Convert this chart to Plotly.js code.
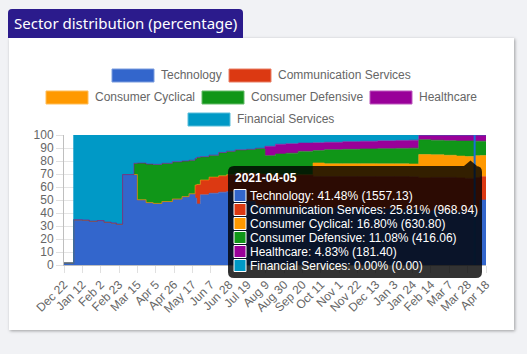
<!DOCTYPE html>
<html><head><meta charset="utf-8">
<script src="https://cdn.plot.ly/plotly-3.0.1.min.js"></script>
<style>
html,body{margin:0;padding:0;background:#f1f2f5;width:527px;height:354px;overflow:hidden;}
#card{position:absolute;left:9px;top:38px;width:505px;height:292px;background:#fff;box-shadow:1px 1px 3px rgba(0,0,0,0.35);}
#tab{position:absolute;left:8px;top:9px;width:235px;height:29px;background:#2b1b8c;border-radius:4px 4px 0 0;}
#chart{position:absolute;left:0;top:0;width:527px;height:354px;}
</style></head><body>
<div id="card"></div><div id="tab"></div><div id="chart"></div>
<script>
const titleText = 'Sector distribution (percentage)';
const sectorNames = ['Technology','Communication Services','Consumer Cyclical','Consumer Defensive','Healthcare','Financial Services'];
const sectorColors = ['#3366cc','#dc3912','#ff9900','#109618','#990099','#0099c6'];

const dates = ['2019-12-22','2020-01-02','2020-01-12','2020-01-20','2020-01-29','2020-02-06','2020-02-14','2020-02-20','2020-02-27','2020-03-11','2020-03-15','2020-03-25','2020-04-02','2020-04-12','2020-04-24','2020-05-05','2020-05-13','2020-05-20','2020-05-22','2020-05-26','2020-06-05','2020-06-16','2020-06-25','2020-07-05','2020-07-18','2020-07-28','2020-08-08','2020-08-20','2020-09-01','2020-09-15','2020-10-02','2020-10-15','2020-11-05','2020-11-25','2020-12-15','2021-01-05','2021-01-20','2021-01-31','2021-02-14','2021-03-01','2021-03-15','2021-03-25','2021-04-05','2021-04-11','2021-04-18'];

const technology = [1.5,34.8,34.6,33.8,34.2,33.0,32.4,31.5,69.6,69.6,50.2,48.0,47.4,48.8,50.8,52.6,54.8,51.5,47.0,54.0,55.2,56.0,56.4,55.4,49.0,46.0,45.5,45.0,44.6,44.8,44.0,43.8,44.0,43.6,43.0,42.8,42.6,41.5,41.8,41.6,41.2,41.0,41.48,50.0,50.0];
const communication = [0,0,0,0,0,0,0,0,0,0,0,0,0,0,0,0,0,10.0,15.0,11.4,12.4,12.6,13.0,15.4,21.5,24.0,24.0,24.2,24.4,24.6,24.0,24.2,24.0,24.4,25.0,25.2,25.2,25.5,25.6,25.8,25.8,25.6,25.81,18.0,18.0];
const cyclical = [0,0,0,0,0,0,0,0,0,0,0,0,0,0,0,0,0,0,0,0,0,0,0,0,0,0,0,0,0,0,10.5,9.9,9.9,9.9,9.8,9.8,9.9,18.0,17.4,17.0,16.8,16.8,16.80,16.2,16.2];
const defensive = [0,0,0,0,0,0,0,0,0,8.6,28.2,29.6,30.0,29.4,28.6,27.4,25.8,20.5,20.8,17.9,16.9,17.9,18.1,17.8,18.5,19.8,14.6,16.2,17.0,18.0,9.5,10.8,11.1,11.4,11.7,11.9,12.2,11.4,11.2,11.2,11.6,12.0,11.08,11.0,11.0];
const healthcare = [0,0,0,0,0,0,0,0,0,0,0,0,0,0,0,0,0,0,0,0,0,0,0,0,0,0,7.2,7.5,7.3,6.4,6.0,5.7,5.9,5.9,6.0,6.1,6.1,3.6,4.0,4.4,4.6,4.6,4.83,4.8,4.8];
const financial = [0,65.2,65.4,66.2,65.8,67.0,67.6,68.5,30.4,21.8,21.6,22.4,22.6,21.8,20.6,20.0,19.4,18.0,17.2,16.7,15.5,13.5,12.5,11.4,11.0,10.2,8.7,7.1,6.7,6.2,6.0,5.6,5.1,4.8,4.5,4.2,4.0,0,0,0,0,0,0,0,0];

const tickVals = ['2019-12-22','2020-01-12','2020-02-02','2020-02-23','2020-03-15','2020-04-05','2020-04-26','2020-05-17','2020-06-07','2020-06-28','2020-07-19','2020-08-09','2020-08-30','2020-09-20','2020-10-11','2020-11-01','2020-11-22','2020-12-13','2021-01-03','2021-01-24','2021-02-14','2021-03-07','2021-03-28','2021-04-18'];
const tickText = ['Dec 22','Jan 12','Feb 2','Feb 23','Mar 15','Apr 5','Apr 26','May 17','Jun 7','Jun 28','Jul 19','Aug 9','Aug 30','Sep 20','Oct 11','Nov 1','Nov 22','Dec 13','Jan 3','Jan 24','Feb 14','Mar 7','Mar 28','Apr 18'];
const yTicks = [0,10,20,30,40,50,60,70,80,90,100];

const hoverDate = '2021-04-05';
const hoverAmounts = [1557.13, 968.94, 630.80, 416.06, 181.40, 0.00];

const seriesValues = [technology, communication, cyclical, defensive, healthcare, financial];

// layout geometry (pixels)
const L=64, R=486, T=135, B=265;
const px = x => (x-L)/(R-L);
const py = y => (B-y)/(B-T);
const FONT = 'Liberation Sans, Arial, Helvetica, sans-serif';

function lighten(hex, k){
  const n = parseInt(hex.slice(1),16);
  const r=(n>>16)&255,g=(n>>8)&255,b=n&255;
  const f=c=>Math.round(c+(255-c)*k);
  return `rgb(${f(r)},${f(g)},${f(b)})`;
}

const traces = seriesValues.map((vals,i)=>({
  type:'scatter', mode:'lines', x:dates, y:vals, name:sectorNames[i],
  stackgroup:'one', line:{shape:'hv', width:0.6, color:sectorColors[i]},
  fillcolor:sectorColors[i], hoverinfo:'skip', showlegend:false
}));

const shapes = [];
const annotations = [];

// legend
const legendPos = [[112,75.5],[229,75.5],[46,97.5],[202,97.5],[370,97.5],[188,119.5]];
sectorNames.forEach((nm,i)=>{
  const [bx,cy] = legendPos[i];
  shapes.push({type:'rect', xref:'paper', yref:'paper', x0:px(bx), x1:px(bx+42), y0:py(cy+6.5), y1:py(cy-6.5),
    fillcolor:sectorColors[i], line:{color:lighten(sectorColors[i],0.35), width:1}, layer:'above'});
  annotations.push({xref:'paper', yref:'paper', x:px(bx+47), y:py(cy-0.5), xanchor:'left', yanchor:'middle',
    text:nm, showarrow:false, font:{family:FONT, size:12, color:'#666'}});
});

// crosshair
shapes.push({type:'line', xref:'x', yref:'paper', x0:hoverDate, x1:hoverDate, y0:0, y1:1,
  line:{color:'#1a6fd6', width:2}, layer:'above'});

// tooltip box (rounded)
function rr(x0,y0,x1,y1,r){
  const X=px, Y=py;
  return `M${X(x0+r)},${Y(y0)} L${X(x1-r)},${Y(y0)} Q${X(x1)},${Y(y0)} ${X(x1)},${Y(y0+r)} L${X(x1)},${Y(y1-r)} Q${X(x1)},${Y(y1)} ${X(x1-r)},${Y(y1)} L${X(x0+r)},${Y(y1)} Q${X(x0)},${Y(y1)} ${X(x0)},${Y(y1-r)} L${X(x0)},${Y(y0+r)} Q${X(x0)},${Y(y0)} ${X(x0+r)},${Y(y0)} Z`;
}
shapes.push({type:'path', xref:'paper', yref:'paper', path:rr(228,166,482,278,6),
  fillcolor:'rgba(0,0,0,0.8)', line:{width:0}, layer:'above'});
shapes.push({type:'path', xref:'paper', yref:'paper',
  path:`M${px(464)},${py(166)} L${px(470.5)},${py(160.5)} L${px(477)},${py(166)} Z`,
  fillcolor:'rgba(0,0,0,0.8)', line:{width:0}, layer:'above'});

const hi = dates.indexOf(hoverDate);
annotations.push({xref:'paper', yref:'paper', x:px(233), y:py(177.5), xanchor:'left', yanchor:'middle',
  text:'<b>'+hoverDate+'</b>', showarrow:false, font:{family:FONT, size:12, color:'#fff'}});
sectorNames.forEach((nm,i)=>{
  const cy = 195.5 + i*14;
  shapes.push({type:'rect', xref:'paper', yref:'paper', x0:px(234), x1:px(246), y0:py(cy+6), y1:py(cy-6),
    fillcolor:sectorColors[i], line:{color:'#fff', width:1}, layer:'above'});
  const pct = seriesValues[i][hi];
  annotations.push({xref:'paper', yref:'paper', x:px(247.5), y:py(cy), xanchor:'left', yanchor:'middle',
    text:`${nm}: ${pct.toFixed(2)}% (${hoverAmounts[i].toFixed(2)})`, showarrow:false,
    font:{family:FONT, size:12, color:'#fff'}});
});

const axisCommon = {
  tickfont:{family:FONT, size:12, color:'#666'},
  showgrid:true, gridcolor:'rgba(0,0,0,0.1)', gridwidth:1,
  ticks:'outside', ticklen:7, tickcolor:'rgba(0,0,0,0.12)',
  showline:true, linecolor:'rgba(0,0,0,0.25)', linewidth:1,
  zeroline:false, fixedrange:true
};

const layout = {
  width:527, height:354,
  margin:{l:L, r:527-R, t:T, b:354-B, pad:0},
  paper_bgcolor:'rgba(0,0,0,0)', plot_bgcolor:'#ffffff',
  title:{text:titleText, font:{family:'Noto Sans, Open Sans, sans-serif', size:15, color:'#ffffff'},
    xref:'container', yref:'container', x:14/527, xanchor:'left', y:1-24/354, yanchor:'middle'},
  xaxis:Object.assign({}, axisCommon, {type:'date', range:[dates[0], dates[dates.length-1]],
    tickmode:'array', tickvals:tickVals, ticktext:tickText, tickangle:-45}),
  yaxis:Object.assign({}, axisCommon, {range:[0,100], tickmode:'array', tickvals:yTicks,
    ticktext:yTicks.map(String)}),
  shapes:shapes, annotations:annotations, showlegend:false, hovermode:false
};

Plotly.newPlot('chart', traces, layout, {displayModeBar:false, staticPlot:true});
</script></body></html>
